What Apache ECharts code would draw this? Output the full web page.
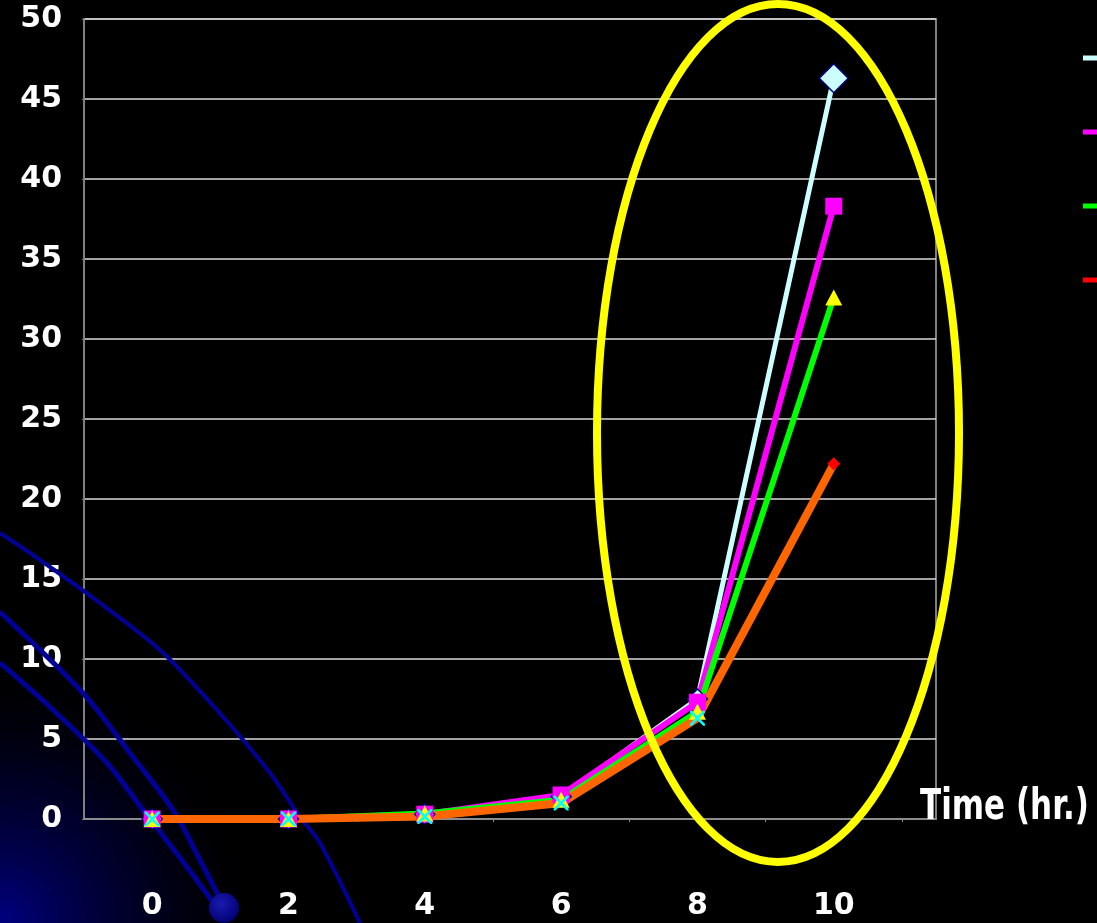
<!DOCTYPE html>
<html>
<head>
<meta charset="utf-8">
<script src="https://cdn.jsdelivr.net/npm/echarts@6/dist/echarts.min.js"></script>
<style>
  html, body { margin: 0; padding: 0; background: #000; }
  #chart { width: 1097px; height: 923px; }
</style>
</head>
<body>
<div id="chart"></div>
<script>
// Sampling times (hours)
const hours = [0, 2, 4, 6, 8, 10];
const xTickLabels = [0, 2, 4, 6, 8, 10];
const yTickLabels = [0, 5, 10, 15, 20, 25, 30, 35, 40, 45, 50];

// Measured values for the four cultures
const seriesNames = ['Series1', 'Series2', 'Series3', 'Series4'];
const cyanValues    = [0, 0, 0.3, 1.4, 7.5, 46.3];
const magentaValues = [0, 0, 0.3, 1.5, 7.3, 38.3];
const greenValues   = [0, 0, 0.35, 1.2, 6.7, 32.6];
const orangeValues  = [0, 0, 0.15, 1.0, 6.3, 22.2];

const FONT = '"DejaVu Sans", Verdana, sans-serif';
const pairs = vals => hours.map((h, i) => [h, vals[i]]);
const lastIdx = hours.length - 1;
const X_PATH = 'path://M0,0 L2.5,0 L10,7.5 L17.5,0 L20,0 L20,2.5 L12.5,10 L20,17.5 L20,20 L17.5,20 L10,12.5 L2.5,20 L0,20 L0,17.5 L7.5,10 L0,2.5 Z';

const chart = echarts.init(document.getElementById('chart'));

function lineSeries(name, vals, color, width) {
  return {
    name, type: 'line', data: pairs(vals), z: 2,
    showSymbol: false, symbol: 'none',
    itemStyle: { color },
    lineStyle: { color, width, join: 'miter' },
    emphasis: { disabled: true }
  };
}

chart.setOption({
  backgroundColor: '#000',
  animation: false,
  grid: {
    left: 84, right: 161, top: 19, bottom: 104,
    show: true, borderColor: '#808080', borderWidth: 2
  },
  legend: {
    orient: 'vertical', left: 1078, top: 43,
    icon: 'rect', itemWidth: 24, itemHeight: 5, itemGap: 54,
    textStyle: { color: '#fff', fontSize: 20, lineHeight: 20, fontFamily: FONT },
    data: [
      { name: seriesNames[0], itemStyle: { color: '#ccffff' } },
      { name: seriesNames[1], itemStyle: { color: '#ff00ff' } },
      { name: seriesNames[2], itemStyle: { color: '#00ff00' } },
      { name: seriesNames[3], itemStyle: { color: '#ff0000' } }
    ]
  },
  xAxis: {
    type: 'value', min: -1, max: 11.5, interval: 1,
    axisLine: { show: true, onZero: false, lineStyle: { color: '#8c8c8c', width: 2 } },
    axisTick: { show: true, customValues: [1, 3, 5, 7, 9, 11], length: 3, lineStyle: { color: '#8c8c8c' } },
    splitLine: { show: false },
    axisLabel: {
      margin: 72,
      formatter: v => (xTickLabels.indexOf(v) >= 0 ? String(v) : ''),
      color: '#fff', fontSize: 30, fontWeight: 'bold', fontFamily: FONT
    }
  },
  yAxis: {
    type: 'value', min: 0, max: 50, interval: 5,
    axisLine: { show: true, onZero: false, lineStyle: { color: '#808080', width: 2 } },
    axisTick: { show: true, length: 2, lineStyle: { color: '#808080' } },
    splitLine: { show: true, lineStyle: { color: '#d9d9d9', width: 1.5 } },
    axisLabel: {
      formatter: v => (yTickLabels.indexOf(v) >= 0 ? String(v) : ''),
      margin: 22,
      color: '#fff', fontSize: 30, fontWeight: 'bold', fontFamily: FONT
    }
  },
  graphic: [
    // dark blue glow in the lower-left corner
    {
      type: 'circle', z: 0, silent: true,
      shape: { cx: 0, cy: 923, r: 270 },
      style: {
        fill: {
          type: 'radial', x: 0.5, y: 0.5, r: 0.5,
          colorStops: [
            { offset: 0, color: 'rgba(0,0,130,1)' },
            { offset: 0.55, color: 'rgba(0,0,60,0.55)' },
            { offset: 1, color: 'rgba(0,0,0,0)' }
          ]
        }
      }
    },
    // decorative navy arcs
    {
      type: 'polyline', z: 1, silent: true,
      shape: { points: [[0,533],[33,555],[100,603],[160,650],[217,710],[270,773],[300,817],[320,843],[360,923]], smooth: 0.3 },
      style: { stroke: '#000096', lineWidth: 4, fill: null }
    },
    {
      type: 'polyline', z: 1, silent: true,
      shape: { points: [[0,612],[83,693],[133,757],[173,810],[200,860],[222,903]], smooth: 0.3 },
      style: { stroke: '#000096', lineWidth: 5, fill: null }
    },
    {
      type: 'polyline', z: 1, silent: true,
      shape: { points: [[0,663],[50,707],[107,763],[143,810],[187,867],[215,905]], smooth: 0.3 },
      style: { stroke: '#000096', lineWidth: 5, fill: null }
    },
    {
      type: 'circle', z: 1, silent: true,
      shape: { cx: 224, cy: 908, r: 15 },
      style: {
        fill: {
          type: 'radial', x: 0.4, y: 0.35, r: 0.7,
          colorStops: [
            { offset: 0, color: '#1a1ab0' },
            { offset: 1, color: '#000070' }
          ]
        }
      }
    },
    // highlight ellipse around the last two sampling times
    {
      type: 'ellipse', z: 3, silent: true,
      shape: { cx: 778, cy: 433, rx: 181, ry: 429 },
      style: { stroke: '#ffff00', lineWidth: 8, fill: null }
    },
    // x axis title
    {
      type: 'text', z: 3, silent: true,
      x: 920, y: 808, scaleY: 1.35,
      style: {
        text: 'Time (hr.)', fill: '#fff',
        font: 'bold 31px ' + FONT,
        textAlign: 'left', textVerticalAlign: 'middle'
      }
    }
  ],
  series: [
    lineSeries(seriesNames[0], cyanValues, '#ccffff', 5),
    lineSeries(seriesNames[1], magentaValues, '#ff00ff', 6),
    lineSeries(seriesNames[2], greenValues, '#00ff00', 6),
    lineSeries(seriesNames[3], orangeValues, '#ff6600', 8),
    // point markers, drawn above all lines
    {
      type: 'scatter', z: 5, data: pairs(cyanValues),
      symbol: 'diamond',
      symbolSize: (v, p) => p.dataIndex === lastIdx ? 29 : 20,
      itemStyle: { color: '#ccffff', borderColor: '#000080', borderWidth: 1.5, opacity: 1 },
      emphasis: { disabled: true }
    },
    {
      type: 'scatter', z: 5, data: pairs(magentaValues),
      symbol: 'rect', symbolSize: 17,
      itemStyle: { color: '#ff00ff', opacity: 1 },
      emphasis: { disabled: true }
    },
    {
      type: 'scatter', z: 5, data: pairs(greenValues),
      symbol: 'triangle', symbolSize: [17, 16],
      itemStyle: { color: '#ffff00', opacity: 1 },
      emphasis: { disabled: true }
    },
    {
      type: 'scatter', z: 5, data: pairs(orangeValues),
      symbol: (v, p) => p.dataIndex === lastIdx ? 'diamond' : X_PATH,
      symbolSize: (v, p) => p.dataIndex === lastIdx ? 13 : 15,
      itemStyle: {
        opacity: 1,
        color: p => p.dataIndex === lastIdx ? '#ff0000' : '#00ffff'
      },
      emphasis: { disabled: true }
    }
  ]
});
</script>
</body>
</html>
